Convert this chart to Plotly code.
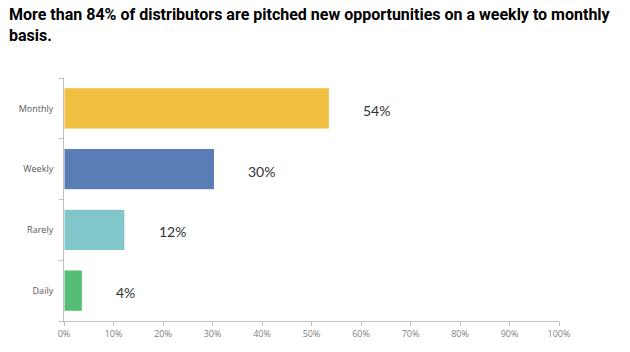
import plotly.graph_objects as go

categories = ["Daily", "Rarely", "Weekly", "Monthly"]
values = [3.7, 12.3, 30.4, 53.6]
labels = ["4%", "12%", "30%", "54%"]
colors = ["#55BE74", "#80C6CB", "#5A7DB5", "#F0BE41"]
xticks = [0, 10, 20, 30, 40, 50, 60, 70, 80, 90, 100]
xtick_text = [f"{t}%" for t in xticks]
title = "More than 84% of distributors are pitched new opportunities on a weekly to monthly<br>basis."

fig = go.Figure()
fig.add_trace(go.Bar(
    x=values, y=categories, orientation="h",
    marker=dict(color=colors, line=dict(color="#ffffff", width=1)),
    width=0.68, hoverinfo="skip",
))
for c, v, l in zip(categories, values, labels):
    fig.add_annotation(x=v, y=c, text=l, showarrow=False, xanchor="left",
                       xshift=32, yshift=-2,
                       font=dict(family="Lato", size=14, color="#333333"))

fig.add_annotation(
    text=title, xref="paper", yref="paper", x=-0.116, y=1.31,
    xanchor="left", yanchor="top", align="left", showarrow=False,
    font=dict(family="Roboto", size=16, color="#000000", weight="bold"),
)

fig.update_layout(
    width=630, height=352,
    margin=dict(l=64, r=71, t=78, b=22),
    paper_bgcolor="white", plot_bgcolor="white",
    showlegend=False,
    xaxis=dict(range=[0, 100], tickvals=xticks, ticktext=xtick_text,
               showgrid=False, zeroline=False, showline=True,
               linecolor="#BFBFBF", linewidth=1, ticks="outside",
               tickcolor="#BFBFBF", ticklen=4,
               tickfont=dict(family="Open Sans", size=9, color="#7F7F7F")),
    yaxis=dict(showgrid=False, zeroline=False, showline=True,
               linecolor="#BFBFBF", linewidth=1, ticks="outside",
               tickson="boundaries", tickcolor="#BFBFBF", ticklen=4,
               tickfont=dict(family="Open Sans", size=9, color="#595959"),
               ticklabelstandoff=8),
)
fig.write_html("out.html")
